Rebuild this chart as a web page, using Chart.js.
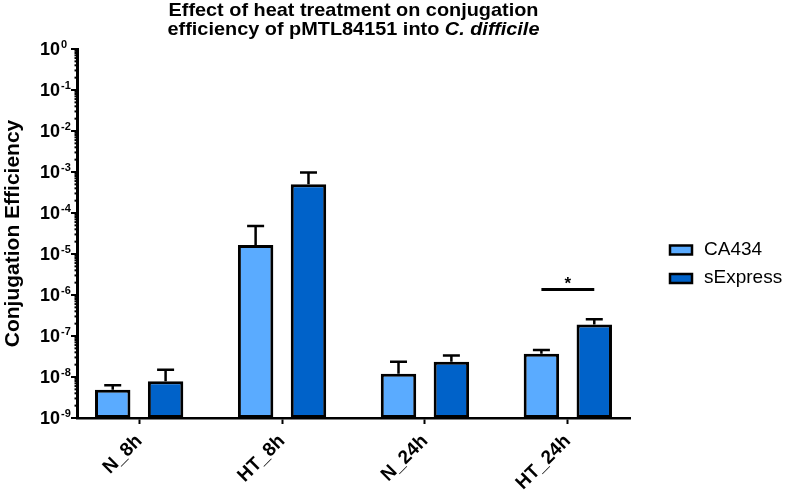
<!DOCTYPE html>
<html>
<head>
<meta charset="utf-8">
<script src="https://cdn.jsdelivr.net/npm/chart.js@4.4.1/dist/chart.umd.min.js"></script>
<style>
  body { margin: 0; background: #fff; }
  canvas { display: block; }
</style>
</head>
<body>
<canvas id="conjChart" width="787" height="492"></canvas>
<script>
// values (mean and top of the error bar)
const categories = ['N_8h', 'HT_8h', 'N_24h', 'HT_24h'];
const seriesNames = ['CA434', 'sExpress'];
const ca434Values = [4.9e-9, 1.65e-5, 1.2e-8, 3.7e-8];
const ca434ErrTop = [6.3e-9, 4.8e-5, 2.35e-8, 4.55e-8];
const sExpressValues = [7.9e-9, 5.0e-4, 2.35e-8, 1.9e-7];
const sExpressErrTop = [1.5e-8, 9.7e-4, 3.35e-8, 2.55e-7];
const seriesColors = ['#5aabff', '#0062c9'];

// significance marker over HT_24h
const sigCategory = 3;
const sigLevel = 1.36e-6;
const sigLabel = '*';

const titleLine1 = 'Effect of heat treatment on conjugation';
const titleLine2a = 'efficiency of pMTL84151 into ';
const titleLine2b = 'C. difficile';
const yTitle = 'Conjugation Efficiency';

const FONT = "'Liberation Sans', Arial, sans-serif";

// error bars, significance line, title, y labels, legend
const extras = {
  id: 'extras',
  afterDatasetsDraw(chart) {
    const ctx = chart.ctx;
    const y = chart.scales.y;
    const errs = [ca434ErrTop, sExpressErrTop];
    ctx.save();
    ctx.strokeStyle = '#000';
    ctx.lineWidth = 2.5;
    chart.data.datasets.forEach((ds, i) => {
      chart.getDatasetMeta(i).data.forEach((bar, j) => {
        const yt = y.getPixelForValue(errs[i][j]);
        ctx.beginPath();
        ctx.moveTo(bar.x, bar.y);
        ctx.lineTo(bar.x, yt);
        ctx.moveTo(bar.x - 8.5, yt);
        ctx.lineTo(bar.x + 8.5, yt);
        ctx.stroke();
      });
    });
    // significance bar
    const b0 = chart.getDatasetMeta(0).data[sigCategory];
    const b1 = chart.getDatasetMeta(1).data[sigCategory];
    const sy = y.getPixelForValue(sigLevel);
    ctx.lineWidth = 3;
    ctx.beginPath();
    ctx.moveTo(b0.x, sy);
    ctx.lineTo(b1.x, sy);
    ctx.stroke();
    ctx.fillStyle = '#000';
    ctx.font = 'bold 17px ' + FONT;
    ctx.textAlign = 'center';
    ctx.textBaseline = 'alphabetic';
    ctx.fillText(sigLabel, (b0.x + b1.x) / 2, sy - 1);
    ctx.restore();
  },
  afterDraw(chart) {
    const ctx = chart.ctx;
    const area = chart.chartArea;
    const y = chart.scales.y;
    ctx.save();
    ctx.fillStyle = '#000';
    ctx.strokeStyle = '#000';

    // title, squeezed/stretched to the width seen in the figure
    const cx = (area.left + area.right) / 2;
    ctx.textBaseline = 'alphabetic';
    ctx.font = 'bold 19px ' + FONT;
    const w1 = ctx.measureText(titleLine1).width;
    const sx = 370 / w1;
    const wA = ctx.measureText(titleLine2a).width;
    ctx.font = 'italic bold 19px ' + FONT;
    const wB = ctx.measureText(titleLine2b).width;
    ctx.save();
    ctx.translate(cx, 0);
    ctx.scale(sx, 1);
    ctx.textAlign = 'center';
    ctx.font = 'bold 19px ' + FONT;
    ctx.fillText(titleLine1, 0, 16);
    const startX = -(wA + wB) / 2;
    ctx.textAlign = 'left';
    ctx.fillText(titleLine2a, startX, 35);
    ctx.font = 'italic bold 19px ' + FONT;
    ctx.fillText(titleLine2b, startX + wA, 35);
    ctx.restore();

    // y ticks: long on decades, short in between
    y.ticks.forEach(t => {
      const py = y.getPixelForValue(t.value);
      const e = Math.log10(t.value);
      const isDecade = Math.abs(e - Math.round(e)) < 1e-6;
      ctx.lineWidth = 2;
      ctx.beginPath();
      ctx.moveTo(area.left, py);
      ctx.lineTo(area.left - (isDecade ? 6 : 2.5), py);
      ctx.stroke();
      if (isDecade) {
        ctx.textAlign = 'right';
        ctx.textBaseline = 'middle';
        ctx.font = 'bold 18px ' + FONT;
        ctx.fillText('10', 60, py + 1);
        ctx.textAlign = 'left';
        ctx.textBaseline = 'top';
        ctx.font = 'bold 11px ' + FONT;
        ctx.fillText(String(Math.round(e)), 61, py - 10);
      }
    });

    // y title
    ctx.save();
    ctx.translate(19, (area.top + area.bottom) / 2);
    ctx.rotate(-Math.PI / 2);
    ctx.textAlign = 'center';
    ctx.textBaseline = 'alphabetic';
    ctx.font = 'bold 21px ' + FONT;
    ctx.fillText(yTitle, 0, 0);
    ctx.restore();

    // legend
    chart.data.datasets.forEach((ds, i) => {
      const by = 245.5 + i * 28.5;
      ctx.fillStyle = ds.backgroundColor;
      ctx.fillRect(670, by, 22, 9);
      ctx.lineWidth = 2.5;
      ctx.strokeRect(670, by, 22, 9);
      ctx.fillStyle = '#000';
      ctx.font = '19px ' + FONT;
      ctx.textAlign = 'left';
      ctx.textBaseline = 'middle';
      ctx.fillText(ds.label, 704, by + 4);
    });
    ctx.restore();
  }
};

const ctx = document.getElementById('conjChart').getContext('2d');
new Chart(ctx, {
  type: 'bar',
  data: {
    datasets: [
      {
        label: seriesNames[0],
        data: ca434Values.map((v, i) => ({ x: i, y: v })),
        backgroundColor: seriesColors[0],
        borderColor: '#000',
        borderWidth: 3,
        borderSkipped: false
      },
      {
        label: seriesNames[1],
        data: sExpressValues.map((v, i) => ({ x: i, y: v })),
        backgroundColor: seriesColors[1],
        borderColor: '#000',
        borderWidth: 3,
        borderSkipped: false
      }
    ]
  },
  options: {
    responsive: false,
    animation: false,
    devicePixelRatio: 1,
    categoryPercentage: 0.74,
    barPercentage: 0.67,
    layout: { padding: { top: 49, left: 0, right: 157, bottom: 0 } },
    plugins: {
      legend: { display: false },
      title: { display: false },
      tooltip: { enabled: false }
    },
    scales: {
      x: {
        type: 'linear',
        offset: false,
        min: -0.435,
        max: 3.435,
        afterFit: s => { s.height = 74; },
        afterBuildTicks: s => { s.ticks = categories.map((c, i) => ({ value: i })); },
        ticks: {
          includeBounds: false,
          autoSkip: false,
          minRotation: 45,
          maxRotation: 45,
          padding: 6,
          color: '#000',
          font: { family: FONT, size: 19, weight: 'bold' },
          callback: v => categories[v]
        },
        grid: {
          offset: false,
          drawOnChartArea: false,
          drawTicks: true,
          tickLength: 6,
          tickWidth: 2,
          tickColor: '#000'
        },
        border: { display: true, color: '#000', width: 2.5 }
      },
      y: {
        type: 'logarithmic',
        min: 1e-9,
        max: 1,
        afterFit: s => { s.width = 77; },
        afterBuildTicks: s => {
          s.ticks = s.ticks.filter(t => {
            const m = t.value / Math.pow(10, Math.floor(Math.log10(t.value) + 1e-9));
            return Math.abs(m - Math.round(m)) < 1e-6;
          });
        },
        ticks: { display: false, autoSkip: false },
        grid: { display: false },
        border: { display: true, color: '#000', width: 3 }
      }
    }
  },
  plugins: [extras]
});
</script>
</body>
</html>
